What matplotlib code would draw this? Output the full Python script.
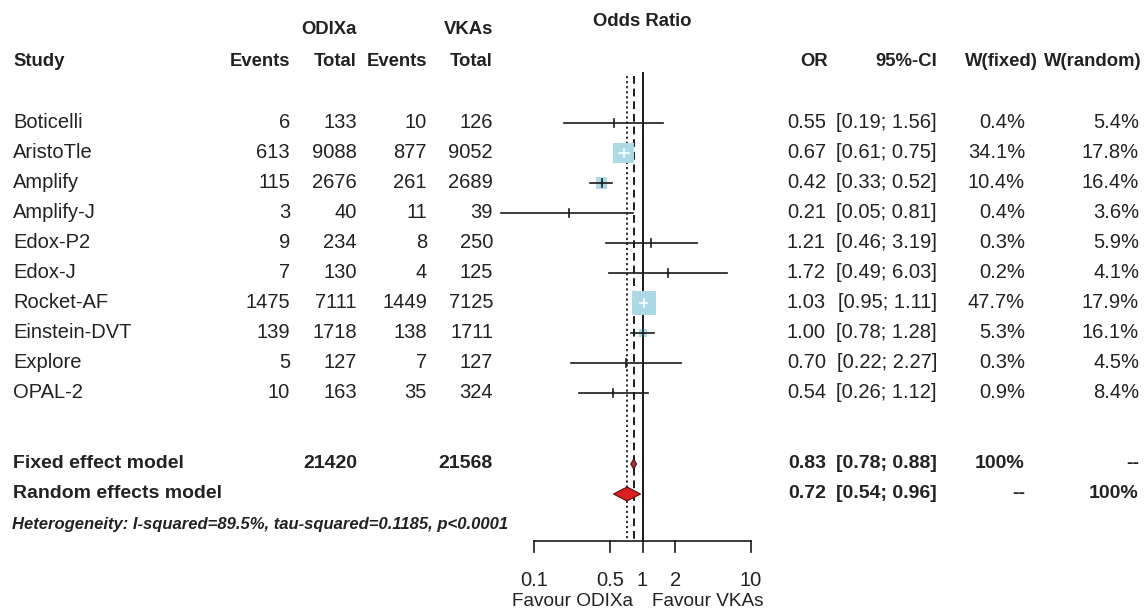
import numpy as np
import matplotlib
matplotlib.use("Agg")
import matplotlib.pyplot as plt
from matplotlib.patches import Polygon

plt.rcParams["font.family"] = ["Liberation Sans", "DejaVu Sans"]

studies = ["Boticelli", "AristoTle", "Amplify", "Amplify-J", "Edox-P2", "Edox-J",
           "Rocket-AF", "Einstein-DVT", "Explore", "OPAL-2"]
ev_odixa = [6, 613, 115, 3, 9, 7, 1475, 139, 5, 10]
tot_odixa = [133, 9088, 2676, 40, 234, 130, 7111, 1718, 127, 163]
ev_vka = [10, 877, 261, 11, 8, 4, 1449, 138, 7, 35]
tot_vka = [126, 9052, 2689, 39, 250, 125, 7125, 1711, 127, 324]
odds = [0.55, 0.67, 0.42, 0.21, 1.21, 1.72, 1.03, 1.00, 0.70, 0.54]
ci_low = [0.19, 0.61, 0.33, 0.05, 0.46, 0.49, 0.95, 0.78, 0.22, 0.26]
ci_high = [1.56, 0.75, 0.52, 0.81, 3.19, 6.03, 1.11, 1.28, 2.27, 1.12]
w_fixed = [0.4, 34.1, 10.4, 0.4, 0.3, 0.2, 47.7, 5.3, 0.3, 0.9]
w_random = [5.4, 17.8, 16.4, 3.6, 5.9, 4.1, 17.9, 16.1, 4.5, 8.4]

fixed_or, fixed_lo, fixed_hi = 0.83, 0.78, 0.88
random_or, random_lo, random_hi = 0.72, 0.54, 0.96
fixed_tot = [21420, 21568]
heterogeneity = "Heterogeneity: I-squared=89.5%, tau-squared=0.1185, p<0.0001"
xticks = [0.1, 0.5, 1, 2, 10]

W, H = 1146, 614
fig = plt.figure(figsize=(W / 100, H / 100), dpi=100)
ax = fig.add_axes([0, 0, 1, 1])
ax.set_xlim(0, W)
ax.set_ylim(H, 0)
ax.axis("off")

# forest panel: log axis placed so 0.1 -> 534 px and 10 -> 751 px
p01, p10 = 534, 751
per_dec = (p10 - p01) / 2
lo_lim, hi_lim = 0.04, 12
left_px = p01 + per_dec * (np.log10(lo_lim) + 1)
right_px = p01 + per_dec * (np.log10(hi_lim) + 1)
fax = fig.add_axes([left_px / W, 0, (right_px - left_px) / W, 1])
fax.set_xscale("log")
fax.set_xlim(lo_lim, hi_lim)
fax.set_ylim(H, 0)
fax.axis("off")
fax.patch.set_alpha(0)

txt = "#222222"
fs_head = 13.3   # bold column headers
fs = 14.5        # body text
fs_sum = 14.0    # bold summary rows
row_y = [123 + 30 * i for i in range(len(studies))]
y_fixed, y_random, y_het = 464, 494, 525

# headers
ax.text(357, 29, "ODIXa", ha="right", va="center", fontsize=fs_head, fontweight="bold", color=txt)
ax.text(493, 29, "VKAs", ha="right", va="center", fontsize=fs_head, fontweight="bold", color=txt)
ax.text(13, 61, "Study", ha="left", va="center", fontsize=fs_head, fontweight="bold", color=txt)
for x, lab in [(290, "Events"), (357, "Total"), (427, "Events"), (493, "Total")]:
    ax.text(x, 61, lab, ha="right", va="center", fontsize=fs_head, fontweight="bold", color=txt)
for x, lab in [(828, "OR"), (937, "95%-CI"), (1038, "W(fixed)"), (1142, "W(random)")]:
    ax.text(x, 61, lab, ha="right", va="center", fontsize=fs_head, fontweight="bold", color=txt)
fax.text(1, 21, "Odds Ratio", ha="center", va="center", fontsize=fs_head, fontweight="bold", color=txt)

# study rows
for i, y in enumerate(row_y):
    ax.text(13, y, studies[i], ha="left", va="center", fontsize=fs, color=txt)
    ax.text(290, y, str(ev_odixa[i]), ha="right", va="center", fontsize=fs, color=txt)
    ax.text(357, y, str(tot_odixa[i]), ha="right", va="center", fontsize=fs, color=txt)
    ax.text(427, y, str(ev_vka[i]), ha="right", va="center", fontsize=fs, color=txt)
    ax.text(493, y, str(tot_vka[i]), ha="right", va="center", fontsize=fs, color=txt)
    ax.text(826, y, f"{odds[i]:.2f}", ha="right", va="center", fontsize=fs, color=txt)
    ax.text(937, y, f"[{ci_low[i]:.2f}; {ci_high[i]:.2f}]", ha="right", va="center", fontsize=fs, color=txt)
    ax.text(1025, y, f"{w_fixed[i]:.1f}%", ha="right", va="center", fontsize=fs, color=txt)
    ax.text(1139, y, f"{w_random[i]:.1f}%", ha="right", va="center", fontsize=fs, color=txt)

# summary rows
ax.text(13, y_fixed, "Fixed effect model", ha="left", va="center", fontsize=fs_sum, fontweight="bold", color=txt)
ax.text(357, y_fixed, str(fixed_tot[0]), ha="right", va="center", fontsize=fs_sum, fontweight="bold", color=txt)
ax.text(493, y_fixed, str(fixed_tot[1]), ha="right", va="center", fontsize=fs_sum, fontweight="bold", color=txt)
ax.text(13, y_random, "Random effects model", ha="left", va="center", fontsize=fs_sum, fontweight="bold", color=txt)
for y, (o, l, h), wf, wr in [(y_fixed, (fixed_or, fixed_lo, fixed_hi), "100%", "--"),
                             (y_random, (random_or, random_lo, random_hi), "--", "100%")]:
    ax.text(826, y, f"{o:.2f}", ha="right", va="center", fontsize=fs_sum, fontweight="bold", color=txt)
    ax.text(937, y, f"[{l:.2f}; {h:.2f}]", ha="right", va="center", fontsize=fs_sum, fontweight="bold", color=txt)
    ax.text(1025, y, wf, ha="right", va="center", fontsize=fs_sum, fontweight="bold", color=txt)
    ax.text(1139, y, wr, ha="right", va="center", fontsize=fs_sum, fontweight="bold", color=txt)
ax.text(12, y_het, heterogeneity, ha="left", va="center", fontsize=11.95,
        fontweight="bold", fontstyle="italic", color=txt)

# reference lines
axis_y = 541
fax.plot([1, 1], [72, axis_y], color="#1a1a1a", lw=1.4, solid_capstyle="butt")
fax.plot([fixed_or, fixed_or], [76, axis_y], color="#1a1a1a", lw=1.4, dashes=(4, 2.5))
fax.plot([random_or, random_or], [76, axis_y], color="#1a1a1a", lw=1.3, dashes=(1.2, 1.6))

# squares, CI lines, estimate ticks
max_side = 24
for i, y in enumerate(row_y):
    side = max_side * np.sqrt(w_fixed[i] / max(w_fixed))
    fax.scatter([odds[i]], [y], marker="s", s=(side * 0.72) ** 2, color="#add8e6",
                edgecolors="none", zorder=2)
    x_sq_lo = 10 ** (np.log10(odds[i]) - side / 2 / per_dec)
    x_sq_hi = 10 ** (np.log10(odds[i]) + side / 2 / per_dec)
    inside = ci_low[i] >= x_sq_lo and ci_high[i] <= x_sq_hi
    c = "white" if inside else "#1a1a1a"
    fax.plot([ci_low[i], ci_high[i]], [y, y], color=c, lw=1.2, zorder=3)
    fax.plot([odds[i], odds[i]], [y - 4, y + 4], color=c, lw=1.2, zorder=3)

# diamonds
fax.add_patch(Polygon([[fixed_lo, y_fixed], [fixed_or, y_fixed - 5], [fixed_hi, y_fixed],
                       [fixed_or, y_fixed + 5]], closed=True, facecolor="#a83232",
                      edgecolor="#4a1010", lw=0.8, zorder=4))
fax.add_patch(Polygon([[random_lo, y_random], [random_or, y_random - 7], [random_hi, y_random],
                       [random_or, y_random + 7]], closed=True, facecolor="#dd1e1e",
                      edgecolor="#5a1010", lw=0.8, zorder=4))

# x axis
fax.plot([xticks[0], xticks[-1]], [axis_y, axis_y], color="#1a1a1a", lw=1.2)
for t in xticks:
    fax.plot([t, t], [axis_y, 552], color="#1a1a1a", lw=1.2)
    fax.text(t, 580, f"{t:g}", ha="center", va="center", fontsize=14.5, color=txt)
fax.text(10 ** (-10 / per_dec), 602, "Favour ODIXa", ha="right", va="center", fontsize=13.7, color=txt)
fax.text(10 ** (10 / per_dec), 602, "Favour VKAs", ha="left", va="center", fontsize=13.7, color=txt)

fig.savefig("out.png", dpi=100)
